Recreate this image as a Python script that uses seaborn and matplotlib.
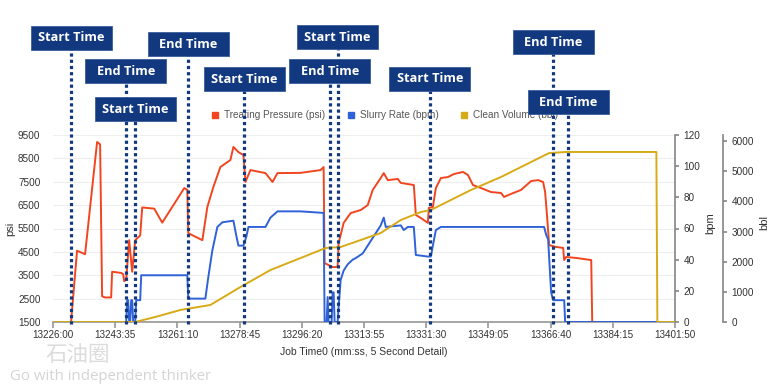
import numpy as np
import pandas as pd
import matplotlib
matplotlib.use("Agg")
import matplotlib.pyplot as plt
import matplotlib.transforms as mtransforms
from matplotlib.patches import Rectangle
from matplotlib.lines import Line2D
import seaborn as sns

# ---------------- data (seconds after 13226:00) ----------------
pressure_t = [0, 306, 323, 408, 544, 748, 799, 833, 884, 986, 1003, 1156, 1190, 1207, 1241,
              1292, 1343, 1394, 1479, 1513, 1717, 1853, 2227, 2278, 2295, 2533, 2618, 2720,
              2839, 3009, 3060, 3145, 3230, 3264, 3349, 3604, 3723, 3808, 4199, 4539, 4590,
              4607, 4743, 4828, 4845, 4930, 5049, 5219, 5338, 5423, 5559, 5610, 5678, 5848,
              5899, 6120, 6154, 6239, 6358, 6375, 6443, 6494, 6579, 6698, 6800, 6953, 7038,
              7123, 7259, 7429, 7599, 7650, 7769, 7939, 8109, 8228, 8313, 8347, 8381, 8415,
              8534, 8653, 8670, 8704, 8874, 9129, 9146, 10550]
pressure_psi = [1500, 1500, 2000, 4550, 4400, 9200, 9100, 2600, 2550, 2550, 3650, 3600, 3550,
                3250, 3300, 5000, 3650, 5000, 5200, 6400, 6350, 5750, 7230, 7150, 5300, 5000,
                6420, 7275, 8130, 8430, 8990, 8770, 8640, 7490, 8000, 7870, 7490, 7870, 7880,
                8000, 8130, 4020, 3850, 3850, 4880, 5740, 6160, 6290, 6500, 7150, 7660, 7870,
                7570, 7620, 7450, 7360, 6080, 5950, 5740, 6380, 6420, 7230, 7660, 7700, 7830,
                7920, 7790, 7360, 7230, 7060, 7020, 6850, 6980, 7150, 7530, 7570, 7490, 7060,
                5990, 4790, 4710, 4670, 4150, 4280, 4240, 4150, 1500, 1500]

rate_t = [0, 1241, 1258, 1275, 1292, 1309, 1326, 1343, 1360, 1394, 1411, 1479, 1496, 2278,
          2295, 2584, 2635, 2703, 2788, 2873, 3060, 3111, 3145, 3230, 3281, 3315, 3604, 3689,
          3808, 4199, 4590, 4607, 4641, 4658, 4675, 4726, 4743, 4760, 4777, 4828, 4845, 4879,
          4930, 4998, 5083, 5134, 5253, 5338, 5474, 5559, 5610, 5644, 5899, 5950, 6018, 6120,
          6154, 6358, 6409, 6443, 6494, 6579, 8330, 8364, 8398, 8449, 8483, 8670, 8687, 10550]
rate_bpm = [0, 0, 14, 14, 0, 0, 14, 14, 0, 0, 14, 14, 30, 30, 15, 15, 29, 46, 61, 64, 65, 55,
            49, 49, 55, 61, 61, 67, 71, 71, 70, 0, 0, 16, 0, 0, 19, 19, 0, 0, 10, 27, 33, 37,
            40, 41, 44, 49, 57, 62, 67, 61, 62, 59, 61, 61, 43, 42, 42, 49, 59, 61, 61, 56, 53,
            19, 14, 14, 0, 0]

volume_t = [0, 1394, 1734, 2159, 2669, 3179, 3689, 4199, 4624, 4879, 5219, 5559, 5899, 6239,
            6409, 6919, 7089, 7599, 8109, 8415, 8704, 10234, 10251, 10550]
volume_bbl = [0, 0, 166, 398, 564, 1160, 1724, 2120, 2453, 2486, 2718, 2950, 3381, 3646,
              3713, 4210, 4376, 4807, 5304, 5600, 5636, 5636, 0, 0]

xtick_labels = ["13226:00", "13243:35", "13261:10", "13278:45", "13296:20", "13313:55",
                "13331:30", "13349:05", "13366:40", "13384:15", "13401:50"]
xtick_step = 1055

event_t = [306, 1237, 1394, 2295, 3247, 4828, 4692, 6392, 8483, 8738]
event_label = ["Start Time", "End Time", "Start Time", "End Time", "Start Time",
               "Start Time", "End Time", "Start Time", "End Time", "End Time"]

series_names = ["Treating Pressure (psi)", "Slurry Rate (bpm)", "Clean Volume (bbl)"]

# ---------------- layout / style ----------------
W, H = 775, 388
RED, BLUE, GOLD = "#f2451f", "#2f62d8", "#d6ab17"
NAVY = "#12397f"
# box vertical centres in axes fraction (layout only)
event_box_y = [1.519, 1.342, 1.139, 1.484, 1.299, 1.524, 1.342, 1.302, 1.497, 1.176]

sns.set_theme(style="white")
plt.rcParams["font.family"] = ["Liberation Sans", "DejaVu Sans"]

fig = plt.figure(figsize=(W / 100, H / 100), dpi=100)
ax_l, ax_r, ax_b, ax_t = 53, 675, 322, 135
ax = fig.add_axes([ax_l / W, 1 - ax_b / H, (ax_r - ax_l) / W, (ax_b - ax_t) / H])
ax2 = ax.twinx()
ax3 = ax.twinx()

dp = pd.DataFrame({"t": pressure_t, "v": pressure_psi})
dr = pd.DataFrame({"t": rate_t, "v": rate_bpm})
dv = pd.DataFrame({"t": volume_t, "v": volume_bbl})

sns.lineplot(data=dp, x="t", y="v", ax=ax, color=RED, lw=1.4, estimator=None, sort=False)
sns.lineplot(data=dr, x="t", y="v", ax=ax2, color=BLUE, lw=1.4, estimator=None, sort=False)
sns.lineplot(data=dv, x="t", y="v", ax=ax3, color=GOLD, lw=1.4, estimator=None, sort=False)

xmax = xtick_step * (len(xtick_labels) - 1)
ax.set_xlim(0, xmax)
ax.set_xticks(np.arange(0, xmax + 1, xtick_step))
ax.set_xticklabels(xtick_labels)

ax.set_ylim(1500, 9500)
ax.set_yticks(np.arange(1500, 9501, 1000))
ax2.set_ylim(0, 120)
ax2.set_yticks(np.arange(0, 121, 20))
ax3.set_ylim(0, 6000 * 187 / 181)
ax3.set_yticks(np.arange(0, 6001, 1000))

ax.grid(axis="y", color="#eeeeee", lw=0.8)
ax.grid(axis="x", visible=False)

for a in (ax, ax2, ax3):
    for s in a.spines.values():
        s.set_visible(False)
    a.set_xlabel("")
    a.set_ylabel("")

ax.spines["bottom"].set_visible(True)
ax.spines["bottom"].set_color("#9a9a9a")
ax.tick_params(axis="x", bottom=True, length=4, color="#9a9a9a", labelsize=7.1,
               labelcolor="#333333", pad=2)
ax.tick_params(axis="y", left=False, labelsize=7.2, labelcolor="#333333", pad=3)

ax2.spines["right"].set_visible(True)
ax2.spines["right"].set_color("#8a8a8a")
ax2.tick_params(axis="y", right=True, length=3, color="#8a8a8a", labelsize=7.2,
                labelcolor="#333333", pad=3)
ax3.spines["right"].set_visible(True)
ax3.spines["right"].set_position(("outward", 48 * 0.72))
ax3.spines["right"].set_color("#8a8a8a")
ax3.tick_params(axis="y", right=True, length=3, color="#8a8a8a", labelsize=7.2,
                labelcolor="#333333", pad=3)

ax.set_ylabel("psi", fontsize=8, color="#333333")
ax.yaxis.set_label_coords((15.5 - ax_l) / (ax_r - ax_l), 0.5)
ax2.set_ylabel("bpm", fontsize=8, color="#333333")
ax2.yaxis.set_label_coords((705.5 - ax_l) / (ax_r - ax_l), 0.53)
ax3.set_ylabel("bbl", fontsize=8, color="#333333")
ax3.yaxis.set_label_coords((759.5 - ax_l) / (ax_r - ax_l), 0.53)
ax.set_xlabel("Job Time0 (mm:ss, 5 Second Detail)", fontsize=7.5, color="#333333", labelpad=5)

# legend
handles = [Line2D([], [], ls="", marker="s", ms=4.5, color=c) for c in (RED, BLUE, GOLD)]
leg = ax3.legend(handles, series_names, loc="center",
                 bbox_to_anchor=((385 - ax_l) / (ax_r - ax_l), (ax_b - 115) / (ax_b - ax_t)),
                 ncol=3, frameon=False, fontsize=7.2, handlelength=0.7, handletextpad=0.55,
                 columnspacing=2.2, borderaxespad=0)
for t in leg.get_texts():
    t.set_color("#555555")
leg.set_zorder(1)

# event markers (dotted lines + labelled boxes)
trans = mtransforms.blended_transform_factory(ax3.transData, ax3.transAxes)
box_w = 81 * xmax / (ax_r - ax_l)
box_h = 24 / (ax_b - ax_t)
for t, yb in zip(event_t, event_box_y):
    ln = Line2D([t, t], [-0.012, yb], transform=trans, color=NAVY, lw=2.3,
                ls=(0, (1, 0.95)), dash_capstyle="butt", clip_on=False, zorder=10)
    ax3.add_line(ln)
for t, lab, yb in zip(event_t, event_label, event_box_y):
    r = Rectangle((t - box_w / 2, yb - box_h / 2), box_w, box_h, transform=trans,
                  facecolor=NAVY, edgecolor="#3b5d9c", lw=0.6, clip_on=False, zorder=11)
    ax3.add_patch(r)
    ax3.text(t, yb, lab, transform=trans, ha="center", va="center", color="white",
             fontsize=9.2, fontweight="bold", family=["Open Sans", "DejaVu Sans"],
             zorder=12, clip_on=False)

# watermark
fig.text(45 / W, 1 - 355 / H, "石油圈", fontsize=15.5, color="#dcdcdc",
         family=["Noto Sans CJK SC", "DejaVu Sans"], va="center", ha="left")
fig.text(10 / W, 1 - 376 / H, "Go with independent thinker", fontsize=10.8, color="#d4d4d4",
         family=["Open Sans", "DejaVu Sans"], va="center", ha="left")

fig.savefig("out.png", dpi=100)
